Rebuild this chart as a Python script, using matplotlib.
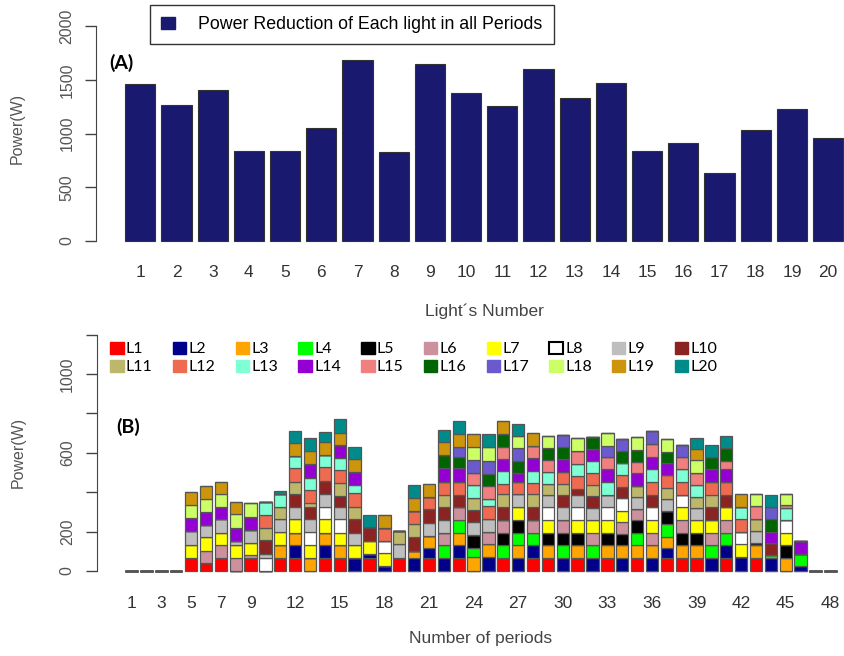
"""
Power reduction per light (A) and per period stacked by light (B)
"""
import matplotlib
matplotlib.use("Agg")
import matplotlib.pyplot as plt
from matplotlib.patches import Patch
import numpy as np

plt.rcParams['font.family'] = ['Liberation Sans', 'DejaVu Sans']

# ---- panel A data -------------------------------------------------------
light_numbers = list(range(1, 21))
total_reduction = [1460, 1268, 1405, 840, 840, 1054, 1684, 831, 1647, 1374,
                   1259, 1597, 1327, 1473, 840, 909, 629, 1033, 1231, 961]

# ---- panel B data: power reduction (W) of each light in periods 1..48 ------
periods = list(range(1, 49))
period_ticks = [1, 3, 5, 7, 9, 12, 15, 18, 21, 24, 27, 30, 33, 36, 39, 42, 45, 48]

l1 = [0, 0, 0, 0, 67, 39, 68, 0, 68, 0, 68, 68,
      0, 68, 68, 0, 68, 0, 68, 0, 68, 0, 68, 0,
      0, 68, 0, 68, 68, 0, 68, 0, 68, 0, 68, 0,
      68, 68, 68, 0, 68, 0, 68, 0, 0, 0, 0, 0]
l2 = [0, 0, 0, 0, 0, 0, 0, 0, 0, 0, 0, 64,
      0, 64, 0, 68, 17, 25, 0, 68, 51, 68, 64, 0,
      70, 0, 68, 64, 0, 68, 0, 68, 0, 68, 0, 68,
      51, 0, 0, 68, 64, 72, 0, 68, 0, 25, 0, 0]
l3 = [0, 0, 0, 0, 0, 0, 0, 0, 0, 0, 64, 63,
      68, 63, 64, 0, 0, 0, 0, 34, 59, 0, 63, 71,
      65, 0, 64, 0, 64, 0, 64, 0, 64, 64, 64, 64,
      56, 64, 64, 0, 0, 0, 64, 0, 68, 0, 0, 0]
l4 = [0, 0, 0, 0, 0, 0, 0, 0, 0, 0, 0, 0,
      0, 0, 0, 0, 0, 0, 0, 0, 0, 64, 64, 47,
      0, 64, 63, 63, 0, 64, 0, 64, 0, 0, 63, 0,
      64, 0, 0, 64, 63, 0, 0, 12, 0, 59, 0, 0]
l5 = [0, 0, 0, 0, 0, 0, 0, 0, 0, 0, 0, 0,
      0, 0, 0, 0, 0, 0, 0, 0, 0, 0, 0, 66,
      0, 63, 64, 0, 63, 63, 63, 0, 63, 54, 64, 0,
      64, 63, 63, 0, 0, 0, 12, 0, 64, 0, 0, 0]
l6 = [0, 0, 0, 0, 0, 63, 64, 68, 12, 0, 0, 0,
      0, 0, 0, 0, 0, 0, 0, 0, 0, 63, 64, 0,
      65, 64, 0, 64, 0, 64, 0, 63, 0, 64, 54, 63,
      0, 64, 0, 63, 64, 0, 0, 0, 0, 0, 0, 0]
l7 = [0, 0, 0, 0, 67, 68, 63, 64, 63, 0, 66, 68,
      64, 68, 63, 64, 68, 64, 0, 0, 0, 0, 0, 0,
      0, 0, 68, 0, 64, 0, 64, 64, 64, 56, 0, 64,
      0, 64, 64, 64, 64, 66, 0, 0, 63, 0, 0, 0]
l8 = [0, 0, 0, 0, 0, 0, 0, 0, 0, 68, 0, 0,
      66, 64, 68, 0, 0, 63, 0, 0, 0, 0, 0, 0,
      0, 0, 0, 0, 64, 0, 64, 0, 65, 64, 0, 64,
      0, 63, 0, 0, 0, 61, 0, 0, 64, 0, 0, 0]
l9 = [0, 0, 0, 0, 67, 63, 68, 20, 64, 20, 64, 64,
      64, 63, 64, 63, 0, 0, 68, 0, 68, 64, 0, 64,
      65, 0, 63, 0, 63, 64, 63, 59, 63, 0, 64, 0,
      64, 0, 59, 0, 0, 0, 59, 0, 0, 0, 0, 0]
l10 = [0, 0, 0, 0, 0, 0, 0, 0, 0, 68, 0, 63,
       64, 68, 54, 68, 68, 0, 0, 71, 68, 64, 63, 61,
       0, 68, 0, 68, 0, 63, 31, 63, 0, 56, 0, 63,
       0, 0, 0, 64, 63, 0, 0, 61, 0, 0, 0, 0]
l11 = [0, 0, 0, 0, 0, 0, 0, 0, 0, 64, 64, 63,
       17, 0, 68, 64, 0, 0, 68, 64, 0, 63, 0, 64,
       0, 63, 0, 63, 56, 56, 0, 56, 0, 0, 56, 0,
       56, 0, 58, 63, 0, 0, 63, 0, 0, 0, 0, 0]
l12 = [0, 0, 0, 0, 0, 0, 0, 0, 0, 64, 0, 68,
       68, 68, 64, 71, 0, 68, 0, 68, 63, 68, 68, 0,
       66, 53, 64, 56, 0, 63, 64, 61, 0, 64, 0, 64,
       64, 64, 0, 64, 64, 64, 0, 0, 0, 0, 0, 0]
l13 = [0, 0, 0, 0, 0, 0, 0, 0, 0, 64, 66, 64,
       63, 63, 63, 37, 0, 0, 0, 0, 0, 0, 0, 63,
       34, 63, 0, 63, 63, 0, 63, 59, 64, 59, 0, 68,
       0, 68, 59, 0, 0, 64, 0, 0, 63, 0, 0, 0]
l14 = [0, 0, 0, 0, 67, 68, 64, 68, 68, 0, 0, 0,
       68, 0, 63, 68, 0, 0, 0, 0, 0, 68, 68, 0,
       0, 64, 42, 64, 0, 64, 0, 63, 68, 0, 64, 63,
       59, 0, 0, 68, 68, 0, 0, 59, 0, 68, 0, 0]
l15 = [0, 0, 0, 0, 0, 0, 0, 0, 0, 0, 0, 0,
       0, 0, 0, 0, 0, 0, 0, 0, 0, 0, 0, 64,
       66, 59, 0, 63, 59, 0, 64, 0, 59, 0, 59, 64,
       0, 63, 64, 0, 42, 0, 63, 0, 12, 0, 0, 0]
l16 = [0, 0, 0, 0, 0, 0, 0, 0, 0, 0, 0, 0,
       0, 0, 0, 0, 0, 0, 0, 0, 0, 68, 59, 0,
       64, 66, 63, 0, 59, 59, 0, 63, 0, 59, 59, 0,
       59, 0, 0, 59, 64, 0, 0, 63, 0, 0, 0, 0]
l17 = [0, 0, 0, 0, 0, 0, 0, 0, 0, 0, 0, 0,
       0, 0, 0, 0, 0, 0, 0, 0, 0, 0, 47, 64,
       66, 0, 66, 0, 0, 63, 0, 0, 59, 64, 0, 68,
       0, 59, 0, 0, 0, 0, 0, 63, 0, 0, 0, 0]
l18 = [0, 0, 0, 0, 67, 64, 63, 68, 68, 0, 0, 0,
       0, 0, 0, 0, 0, 0, 0, 0, 0, 0, 0, 64,
       67, 0, 59, 0, 64, 0, 68, 0, 66, 0, 64, 0,
       64, 0, 64, 0, 0, 0, 61, 0, 59, 0, 0, 0]
l19 = [0, 0, 0, 0, 67, 68, 64, 64, 0, 0, 0, 63,
       68, 64, 64, 64, 0, 63, 0, 64, 63, 64, 66, 66,
       0, 66, 0, 63, 0, 0, 0, 0, 0, 0, 0, 0,
       0, 0, 59, 0, 0, 66, 0, 0, 0, 0, 0, 0]
l20 = [0, 0, 0, 0, 0, 0, 0, 0, 0, 0, 14, 64,
       64, 51, 68, 64, 63, 0, 0, 68, 0, 63, 68, 0,
       68, 0, 64, 0, 0, 0, 0, 0, 0, 0, 0, 0,
       0, 0, 51, 64, 64, 0, 0, 61, 0, 0, 0, 0]

light_series = [l1, l2, l3, l4, l5, l6, l7, l8, l9, l10,
                l11, l12, l13, l14, l15, l16, l17, l18, l19, l20]
light_labels = [f"L{i}" for i in light_numbers]
light_colors = ['#FF0000', '#00008B', '#FFA500', '#00FF00', '#000000',
                '#CD919E', '#FFFF00', '#FFFFFF', '#BEBEBE', '#8B2323',
                '#BDB76B', '#EE6A50', '#7FFFD4', '#9400D3', '#F08080',
                '#006400', '#6A5ACD', '#CCFF66', '#CD950C', '#008B8B']

W, H = 845, 656
TICK_GREY = '#555555'


def axes_px(fig, left, top, right, bottom):
    """add an axes given its edges in pixels (origin top-left)"""
    return fig.add_axes([left / W, 1 - bottom / H, (right - left) / W, (bottom - top) / H])


def r_style(ax, ymax):
    """R base graphics look: only the left axis, rotated y labels"""
    for side in ('top', 'right', 'bottom'):
        ax.spines[side].set_visible(False)
    ax.spines['left'].set_bounds(0, ymax)
    ax.spines['left'].set_color('#444444')
    ax.tick_params(axis='y', direction='out', length=8, width=1, color='#444444',
                   labelsize=11.5, labelcolor=TICK_GREY, pad=8)
    ax.tick_params(axis='x', length=0, labelsize=12.5, labelcolor='#333333', pad=11)
    for lab in ax.get_yticklabels():
        lab.set_rotation(90)
        lab.set_va('center')


fig = plt.figure(figsize=(W / 100, H / 100), dpi=100)

# ---- (A) -----------------------------------------------------------------
ax1 = axes_px(fig, 96.5, 17.4, 872, 249.6)
x1 = 0.7 + 1.2 * np.arange(len(light_numbers))
ax1.bar(x1, total_reduction, width=1.0, color='#191970', edgecolor='#333333', linewidth=0.8)
ax1.set_xlim(-0.752, 24.952)
ax1.set_ylim(-80, 2080)
ax1.set_yticks(range(0, 2001, 500))
ax1.set_xticks(x1)
ax1.set_xticklabels([str(n) for n in light_numbers])
r_style(ax1, 2000)
ax1.set_ylabel('Power(W)', fontsize=11.5, color=TICK_GREY)
ax1.yaxis.set_label_coords(-0.093, 0.52)
ax1.set_xlabel('Light\u00b4s Number', fontsize=12.5, color='#444444')
ax1.xaxis.set_label_coords(0.5, -0.232)
fig.text(121 / W, 1 - 63 / H, '(A)', fontsize=14, fontweight='bold',
         family=['Lato', 'DejaVu Sans'], ha='center', va='center')

leg_a = fig.legend(handles=[Patch(facecolor='#191970', edgecolor='#191970')],
                   labels=['Power Reduction of Each light in all Periods'],
                   loc='upper left', bbox_to_anchor=(150 / W, 1 - 5 / H),
                   borderaxespad=0, fontsize=12.8, fancybox=False, framealpha=1,
                   edgecolor='#333333', borderpad=0.62, handlelength=0.8,
                   handleheight=0.7, handletextpad=1.3)
leg_a.get_frame().set_linewidth(1.0)

# ---- (B) -----------------------------------------------------------------
ax2 = axes_px(fig, 97, 325.3, 865, 580.4)
x2 = 0.7 + 1.2 * np.arange(len(periods))
bottom = np.zeros(len(periods))
for vals, col in zip(light_series, light_colors):
    ax2.bar(x2, vals, bottom=bottom, width=1.0, color=col,
            edgecolor='#555555', linewidth=0.9)
    bottom += np.array(vals)
ax2.set_xlim(-2.096, 59.896)
ax2.set_ylim(-48, 1248)
ax2.set_yticks(range(0, 1201, 200))
ax2.set_yticklabels(['0', '200', '', '600', '', '1000', ''])
ax2.set_xticks([x2[p - 1] for p in period_ticks])
ax2.set_xticklabels([str(p) for p in period_ticks])
r_style(ax2, 1200)
ax2.set_ylabel('Power(W)', fontsize=11.5, color=TICK_GREY)
ax2.yaxis.set_label_coords(-0.093, 0.5)
ax2.set_xlabel('Number of periods', fontsize=12.5, color='#444444')
ax2.xaxis.set_label_coords(0.5, -0.2)
fig.text(128 / W, 1 - 427 / H, '(B)', fontsize=14, fontweight='bold',
         family=['Lato', 'DejaVu Sans'], ha='center', va='center')

# legend in two rows of ten, filled row by row
handles = []
for col in light_colors:
    if col == '#FFFFFF':
        handles.append(Patch(facecolor=col, edgecolor='black', linewidth=1.5))
    else:
        handles.append(Patch(facecolor=col, edgecolor=col))
order = [i + 10 * r for i in range(10) for r in range(2)]
leg_b = fig.legend([handles[i] for i in order], [light_labels[i] for i in order],
                   ncol=10, loc='upper left', bbox_to_anchor=(110 / W, 1 - 342 / H),
                   frameon=False, borderaxespad=0, borderpad=0,
                   prop={'family': ['Lato', 'DejaVu Sans'], 'size': 11.5},
                   handlelength=0.85, handleheight=0.75, handletextpad=0.15,
                   columnspacing=1.25, labelspacing=0.22)

fig.savefig('out.png', dpi=100)
